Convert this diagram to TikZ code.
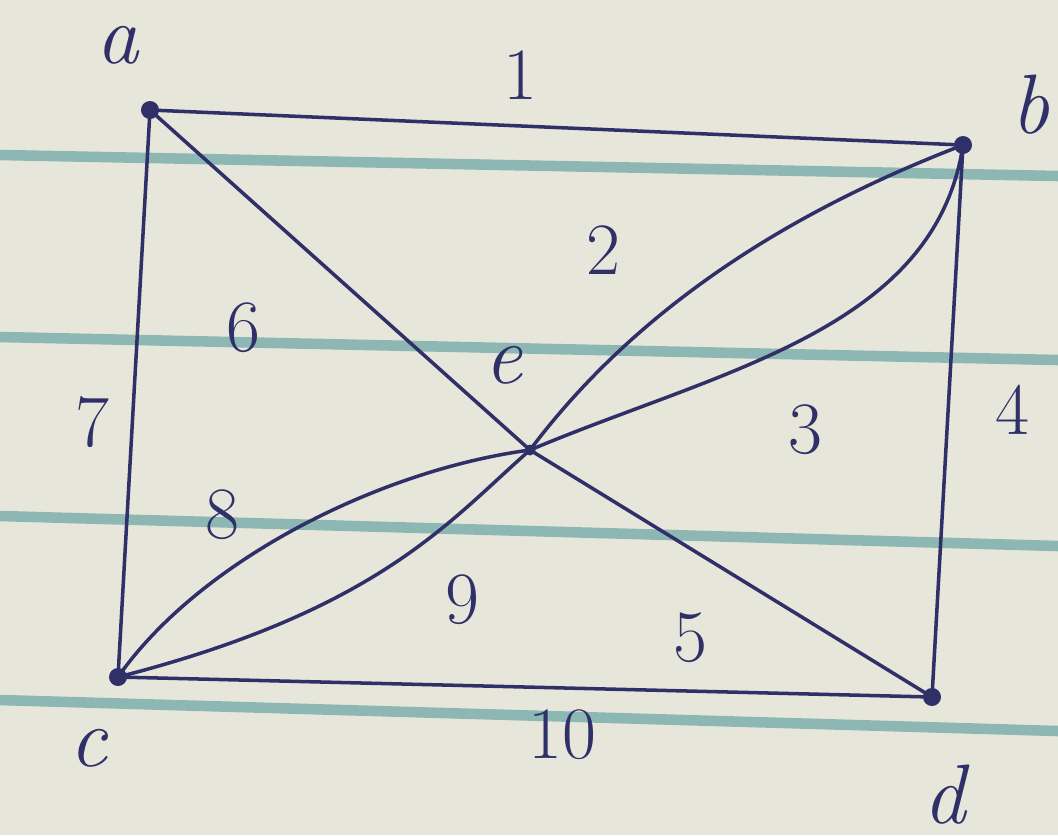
\documentclass[tikz,border=0pt]{standalone}
\usepackage{fontspec}
\setmainfont{Latin Modern Roman}
\definecolor{paper}{RGB}{230,230,219}
\definecolor{rule}{RGB}{112,168,166}
\definecolor{ink}{RGB}{48,48,105}
\tikzset{
  vtx/.style={circle,fill=ink,inner sep=0pt,minimum size=0.18cm},
  edge/.style={draw=ink,line width=1pt},
  vlab/.style={text=ink,font=\fontsize{24}{26}\selectfont\itshape},
  elab/.style={text=ink,font=\fontsize{21}{24}\selectfont},
  ruled/.style={draw=rule,line width=3pt,opacity=0.75}
}
\begin{document}
\begin{tikzpicture}[x=0.01cm,y=-0.01cm]
\fill[paper] (0,0) rectangle (1058,835);
\useasboundingbox (0,0) rectangle (1058,835);
% ruled paper lines
\draw[ruled] (0,155) -- (1058,176);
\draw[ruled] (0,337) -- (1058,360);
\draw[ruled] (0,516) -- (1058,546);
\draw[ruled] (0,700) -- (1058,731);
% vertices
\node[vtx] (a) at (150,110) {};
\node[vtx] (b) at (963,145) {};
\node[vtx] (c) at (118,677) {};
\node[vtx] (d) at (932,697) {};
\node[vtx,minimum size=0.11cm] (e) at (530,450) {};
% edges
\draw[edge] (a.center) -- (b.center);
\draw[edge] (a.center) -- (c.center);
\draw[edge] (b.center) -- (d.center);
\draw[edge] (c.center) -- (d.center);
\draw[edge] (a.center) -- (e.center);
\draw[edge] (e.center) -- (d.center);
\draw[edge] (e.center) .. controls (650,290) and (820,200) .. (b.center);
\draw[edge] (e.center) .. controls (720,370) and (935,330) .. (b.center);
\draw[edge] (c.center) .. controls (200,560) and (380,470) .. (e.center);
\draw[edge] (c.center) .. controls (380,610) and (450,520) .. (e.center);
% vertex labels
\node[vlab] (la) at (118,45) {a};
\node[vlab] (lb) at (1030,105) {b};
\node[vlab] (lc) at (88,748) {c};
\node[vlab] (ld) at (945,795) {d};
\node[vlab] (le) at (503,365) {e};
% edge labels
\node[elab] (l1) at (520,75) {1};
\node[elab] (l2) at (603,250) {2};
\node[elab] (l3) at (805,430) {3};
\node[elab] (l4) at (1012,410) {4};
\node[elab] (l5) at (690,638) {5};
\node[elab] (l6) at (243,328) {6};
\node[elab] (l7) at (92,422) {7};
\node[elab] (l8) at (222,515) {8};
\node[elab] (l9) at (462,600) {9};
\node[elab] (l10) at (562,735) {10};
\end{tikzpicture}
\end{document}
